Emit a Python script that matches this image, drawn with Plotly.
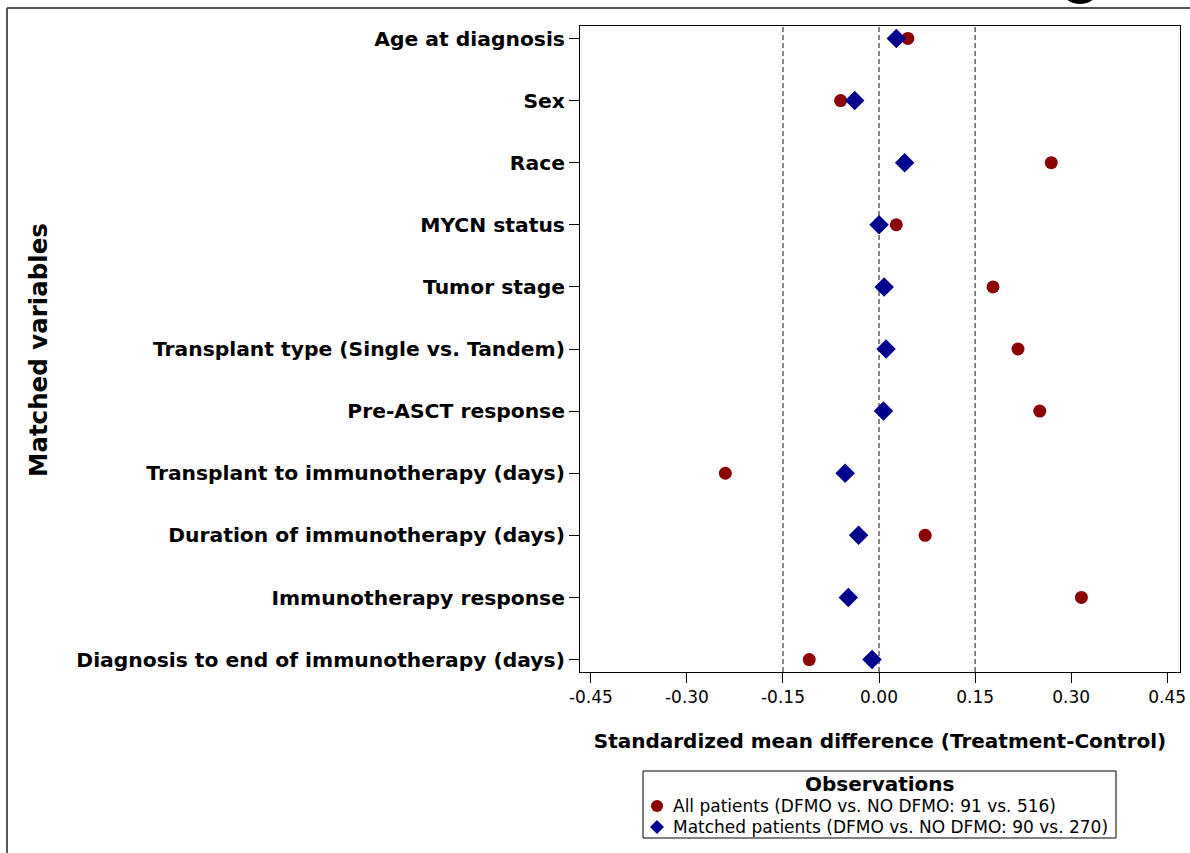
import plotly.graph_objects as go

# Covariates shown top to bottom
variables = [
    "Age at diagnosis",
    "Sex",
    "Race",
    "MYCN status",
    "Tumor stage",
    "Transplant type (Single vs. Tandem)",
    "Pre-ASCT response",
    "Transplant to immunotherapy (days)",
    "Duration of immunotherapy (days)",
    "Immunotherapy response",
    "Diagnosis to end of immunotherapy (days)",
]

# Standardized mean differences, all patients (91 vs. 516)
smd_all = [0.045, -0.060, 0.269, 0.027, 0.178, 0.217, 0.251, -0.240, 0.072, 0.316, -0.109]

# Standardized mean differences, matched patients (90 vs. 270)
smd_matched = [0.027, -0.038, 0.040, 0.000, 0.008, 0.011, 0.007, -0.053, -0.032, -0.048, -0.011]

x_ticks = [-0.45, -0.30, -0.15, 0.00, 0.15, 0.30, 0.45]
x_ticktext = ["-0.45", "-0.30", "-0.15", "0.00", "0.15", "0.30", "0.45"]
reference_lines = [-0.15, 0.0, 0.15]

legend_title = "Observations"
legend_labels = [
    "All patients (DFMO vs. NO DFMO: 91 vs. 516)",
    "Matched patients (DFMO vs. NO DFMO: 90 vs. 270)",
]

RED = "#8b0000"
BLUE = "#00008f"
FONT = "DejaVu Sans"

W, H = 1190, 853
ML, MR, MT, MB = 580, 10, 26, 181
PW, PH = W - ML - MR, H - MT - MB


def px_x(p):
    """Horizontal pixel position -> paper coordinate."""
    return (p - ML) / PW


def px_y(p):
    """Vertical pixel position (from top) -> paper coordinate."""
    return (H - MB - p) / PH


fig = go.Figure()

fig.add_trace(go.Scatter(
    x=smd_all, y=variables, mode="markers", name=legend_labels[0],
    marker=dict(symbol="circle", size=13, color=RED),
))
fig.add_trace(go.Scatter(
    x=smd_matched, y=variables, mode="markers", name=legend_labels[1],
    marker=dict(symbol="diamond", size=15, color=BLUE),
))

for xv in reference_lines:
    fig.add_shape(type="line", xref="x", yref="paper", x0=xv, x1=xv, y0=0, y1=1,
                  line=dict(color="#111111", width=1, dash="5px,3px"), layer="below")

# Outer frame edges (top and left)
fig.add_shape(type="line", xref="paper", yref="paper",
              x0=px_x(7), x1=px_x(1192), y0=px_y(8), y1=px_y(8),
              line=dict(color="#555555", width=2))
fig.add_shape(type="line", xref="paper", yref="paper",
              x0=px_x(7), x1=px_x(7), y0=px_y(8), y1=px_y(860),
              line=dict(color="#555555", width=2))

# Heading glyph partly above the frame
fig.add_shape(type="circle", xref="paper", yref="paper",
              x0=px_x(1063), x1=px_x(1097), y0=px_y(4), y1=px_y(-22),
              fillcolor="black", line=dict(width=0))

fig.add_annotation(
    text="Matched variables", xref="paper", yref="paper", x=px_x(38), y=px_y(350),
    textangle=-90, showarrow=False, xanchor="center", yanchor="middle",
    font=dict(family=FONT, size=24.5, color="black", weight="bold"),
)

# Legend box
fig.add_shape(type="rect", xref="paper", yref="paper",
              x0=px_x(643), x1=px_x(1116), y0=px_y(838), y1=px_y(771),
              line=dict(color="black", width=1), fillcolor="white")
fig.add_annotation(
    text=legend_title, xref="paper", yref="paper", x=px_x(879), y=px_y(784),
    showarrow=False, xanchor="center", yanchor="middle", borderpad=0,
    font=dict(family=FONT, size=20, color="black", weight="bold"),
)
item_y = [806, 827]
for label, yy in zip(legend_labels, item_y):
    fig.add_annotation(
        text=label, xref="paper", yref="paper", x=px_x(672), y=px_y(yy),
        showarrow=False, xanchor="left", yanchor="middle", borderpad=0,
        font=dict(family=FONT, size=17, color="black"),
    )
fig.add_shape(type="circle", xref="paper", yref="paper",
              x0=px_x(651), x1=px_x(663), y0=px_y(item_y[0] + 6), y1=px_y(item_y[0] - 6),
              fillcolor=RED, line=dict(width=0))
cx, cy, r = 657, item_y[1], 7
fig.add_shape(type="path", xref="paper", yref="paper",
              path=(f"M {px_x(cx)},{px_y(cy - r)} L {px_x(cx + r)},{px_y(cy)} "
                    f"L {px_x(cx)},{px_y(cy + r)} L {px_x(cx - r)},{px_y(cy)} Z"),
              fillcolor=BLUE, line=dict(width=0))

fig.update_layout(
    width=W, height=H,
    margin=dict(l=ML, r=MR, t=MT, b=MB, autoexpand=False),
    paper_bgcolor="white", plot_bgcolor="white",
    font=dict(family=FONT, color="black"),
    showlegend=False,
    xaxis=dict(
        range=[-0.467, 0.47], tickvals=x_ticks, ticktext=x_ticktext,
        showgrid=False, zeroline=False, showline=True, mirror=True,
        linecolor="black", linewidth=1, ticks="outside", ticklen=10, tickcolor="black",
        tickfont=dict(family=FONT, size=17),
        title=dict(text="Standardized mean difference (Treatment-Control)",
                   font=dict(family=FONT, size=20, weight="bold"), standoff=27),
    ),
    yaxis=dict(
        type="category", categoryorder="array", categoryarray=variables,
        range=[10.2, -0.2], autorange=False,
        showgrid=False, zeroline=False, showline=True, mirror=True,
        linecolor="black", linewidth=1, ticks="outside", ticklen=10, tickcolor="black",
        tickfont=dict(family=FONT, size=20.3, weight="bold"),
    ),
)

fig.write_html("out.html")
